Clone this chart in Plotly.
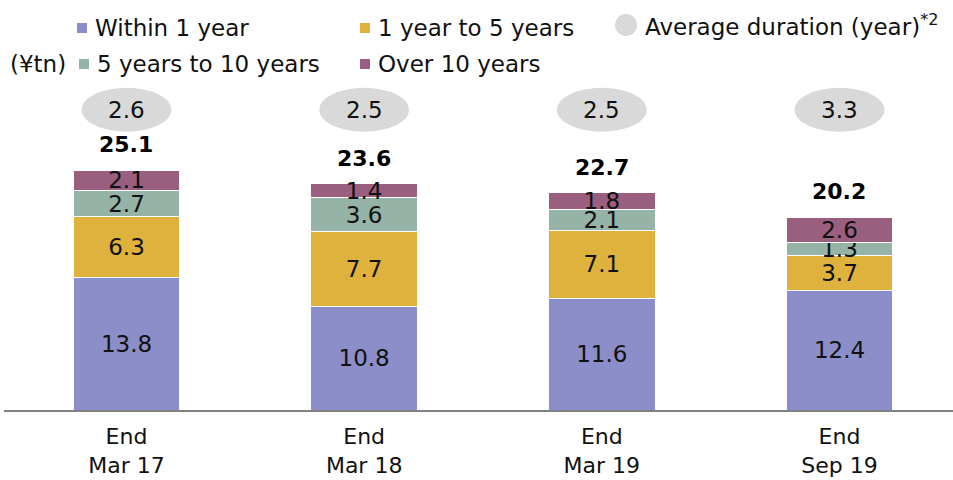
import plotly.graph_objects as go

# Outstanding balance by remaining maturity (¥tn)
categories = ["End<br>Mar 17", "End<br>Mar 18", "End<br>Mar 19", "End<br>Sep 19"]
within_1y = [13.8, 10.8, 11.6, 12.4]
y1_to_5 = [6.3, 7.7, 7.1, 3.7]
y5_to_10 = [2.7, 3.6, 2.1, 1.3]
over_10y = [2.1, 1.4, 1.8, 2.6]
totals = [25.1, 23.6, 22.7, 20.2]
avg_duration = [2.6, 2.5, 2.5, 3.3]

series = [
    ("Within 1 year", within_1y, "#8b8ec8"),
    ("1 year to 5 years", y1_to_5, "#dfb23e"),
    ("5 years to 10 years", y5_to_10, "#95b3a6"),
    ("Over 10 years", over_10y, "#9a5e7e"),
]

FONT = "DejaVu Sans"
TXT = "#111111"
W, H = 953, 480
L, R, T, B = 4, 0, 0, 70
PW, PH = W - L - R, H - T - B

x = list(range(len(categories)))
fig = go.Figure()
for name, vals, col in series:
    fig.add_trace(go.Bar(
        x=x, y=vals, name=name, width=0.45,
        marker=dict(color=col, line=dict(color="white", width=1)),
        texttemplate="%{y:.1f}", textposition="inside",
        insidetextanchor="middle", textangle=0, constraintext="none",
        textfont=dict(family=FONT, size=23, color=TXT),
        showlegend=False, hoverinfo="skip",
    ))

annotations = []
shapes = []

# Totals above each stack
for i, t in enumerate(totals):
    annotations.append(dict(
        x=i, y=t, xref="x", yref="y", text=f"<b>{t:.1f}</b>",
        showarrow=False, yanchor="middle", yshift=24,
        font=dict(family=FONT, size=22, color="#000000"),
    ))

# Average duration bubbles
DUR_Y = 31.2
for i, d in enumerate(avg_duration):
    shapes.append(dict(
        type="circle", xref="x", yref="y", xsizemode="pixel", ysizemode="pixel",
        xanchor=i, yanchor=DUR_Y, x0=-45, x1=45, y0=-22, y1=22,
        fillcolor="#d9d9d9", line=dict(width=0), layer="below",
    ))
    annotations.append(dict(
        x=i, y=DUR_Y, xref="x", yref="y", text=f"{d:.1f}", showarrow=False,
        font=dict(family=FONT, size=23, color=TXT),
    ))


def px(xp):
    return (xp - L) / PW


def py(yp):
    return (T + PH - yp) / PH


# Legend drawn in pixel positions along the top
legend_items = [
    (series[0], 77, 28),
    (series[1], 360, 28),
    (series[2], 79, 64),
    (series[3], 360, 64),
]
for (name, _, col), lx, ly in legend_items:
    shapes.append(dict(
        type="rect", xref="paper", yref="paper", xsizemode="pixel", ysizemode="pixel",
        xanchor=px(lx + 5), yanchor=py(ly), x0=-5, x1=5, y0=-5, y1=5,
        fillcolor=col, line=dict(width=0),
    ))
    annotations.append(dict(
        x=px(lx + 16), y=py(ly), xref="paper", yref="paper", text=name,
        showarrow=False, xanchor="left", yanchor="middle",
        font=dict(family=FONT, size=23, color=TXT),
    ))

shapes.append(dict(
    type="circle", xref="paper", yref="paper", xsizemode="pixel", ysizemode="pixel",
    xanchor=px(626), yanchor=py(25), x0=-11, x1=11, y0=-11, y1=11,
    fillcolor="#d9d9d9", line=dict(width=0),
))
annotations.append(dict(
    x=px(643), y=py(25), xref="paper", yref="paper",
    text="Average duration (year)<sup>*2</sup>",
    showarrow=False, xanchor="left", yanchor="middle",
    font=dict(family=FONT, size=23, color=TXT),
))
annotations.append(dict(
    x=px(8), y=py(64), xref="paper", yref="paper", text="(¥tn)",
    showarrow=False, xanchor="left", yanchor="middle",
    font=dict(family=FONT, size=23, color=TXT),
))

fig.update_layout(
    barmode="stack",
    width=W, height=H,
    margin=dict(l=L, r=R, t=T, b=B),
    plot_bgcolor="white", paper_bgcolor="white",
    font=dict(family=FONT, size=23, color=TXT),
    shapes=shapes, annotations=annotations,
    xaxis=dict(
        tickmode="array", tickvals=x, ticktext=categories,
        range=[-0.5154, 3.4776], showline=True, linecolor="#808080", linewidth=2,
        ticks="", ticklabelstandoff=6, showgrid=False, zeroline=False,
        automargin=False,
        tickfont=dict(family=FONT, size=22, color=TXT),
    ),
    yaxis=dict(range=[0, 42.6], visible=False, showgrid=False, zeroline=False,
               automargin=False),
)

fig.write_html("out.html")
